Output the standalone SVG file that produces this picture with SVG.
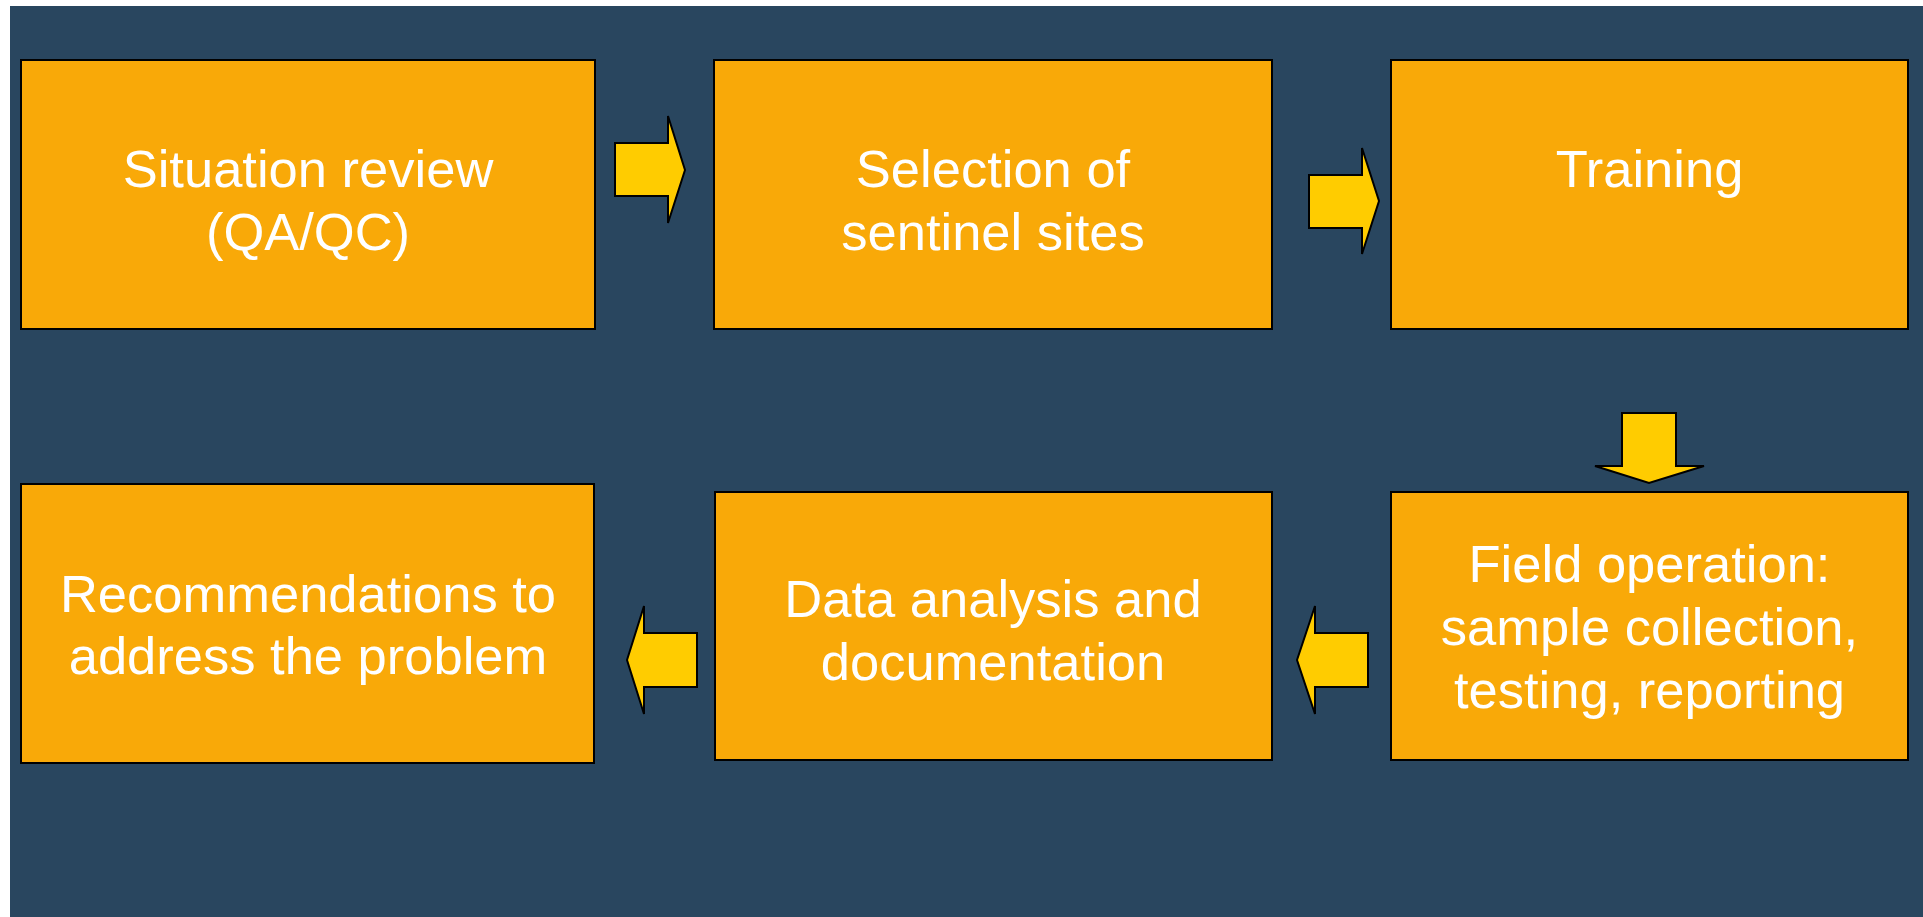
<svg xmlns="http://www.w3.org/2000/svg" width="1923" height="917" viewBox="0 0 1923 917">
  <style>
    .box { fill: #F9A908; stroke: #000000; stroke-width: 2; }
    .arrow { fill: #FFCC00; stroke: #000000; stroke-width: 2; stroke-linejoin: miter; }
    .label { fill: #FFFFFF; font-family: "Liberation Sans", Arial, sans-serif; font-size: 52.5px; text-anchor: middle; }
  </style>
  <rect x="0" y="0" width="1923" height="917" fill="#FFFFFF"/>
  <rect x="10" y="6" width="1913" height="911" fill="#29465F"/>

  <!-- Top row -->
  <g id="situation-review">
    <rect class="box" x="21" y="60" width="574" height="269"/>
    <text class="label" x="308" y="187">Situation review</text>
    <text class="label" x="308" y="250">(QA/QC)</text>
  </g>
  <g id="selection-of-sites">
    <rect class="box" x="714" y="60" width="558" height="269"/>
    <text class="label" x="993" y="187">Selection of</text>
    <text class="label" x="993" y="250">sentinel sites</text>
  </g>
  <g id="training">
    <rect class="box" x="1391" y="60" width="517" height="269"/>
    <text class="label" x="1649.5" y="187">Training</text>
  </g>

  <!-- Bottom row -->
  <g id="field-operation">
    <rect class="box" x="1391" y="492" width="517" height="268"/>
    <text class="label" x="1649.5" y="582">Field operation:</text>
    <text class="label" x="1649.5" y="645">sample collection,</text>
    <text class="label" x="1649.5" y="708">testing, reporting</text>
  </g>
  <g id="data-analysis">
    <rect class="box" x="715" y="492" width="557" height="268"/>
    <text class="label" x="993" y="617">Data analysis and</text>
    <text class="label" x="993" y="680">documentation</text>
  </g>
  <g id="recommendations">
    <rect class="box" x="21" y="484" width="573" height="279"/>
    <text class="label" x="308" y="612">Recommendations to</text>
    <text class="label" x="308" y="674">address the problem</text>
  </g>

  <!-- Block arrows between the steps -->
  <g id="connectors">
    <polygon class="arrow" points="615,143 668,143 668,116 685,170 668,223 668,196 615,196"/>
    <polygon class="arrow" points="1309,175 1362,175 1362,148 1379,201 1362,254 1362,228 1309,228"/>
    <polygon class="arrow" points="1622,413 1676,413 1676,466 1704,466 1649,483 1595,466 1622,466"/>
    <polygon class="arrow" points="1368,633 1315,633 1315,606 1297,660 1315,714 1315,687 1368,687"/>
    <polygon class="arrow" points="697,633 644,633 644,606 627,660 644,714 644,687 697,687"/>
  </g>
</svg>
